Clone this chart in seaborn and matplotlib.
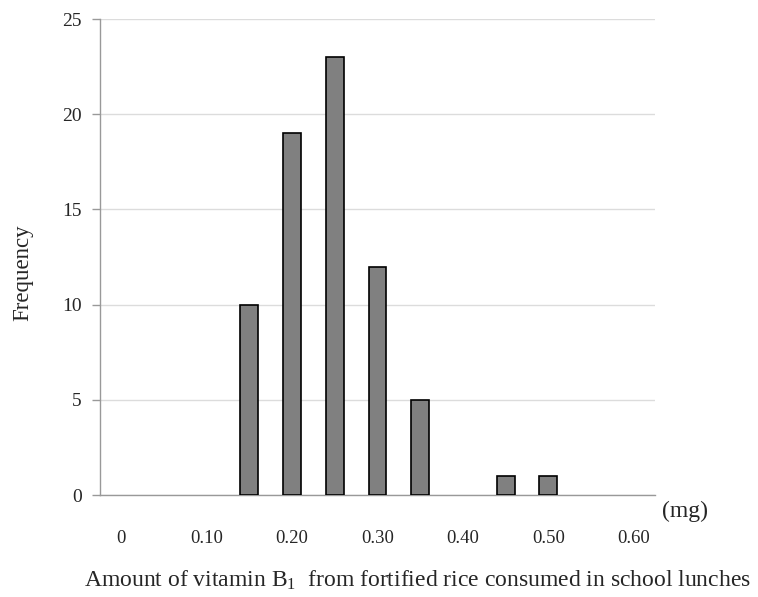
import numpy as np
import pandas as pd
import seaborn as sns
import matplotlib.pyplot as plt

# Data
amount = ["0", "0.05", "0.10", "0.15", "0.20", "0.25", "0.30",
          "0.35", "0.40", "0.45", "0.50", "0.55", "0.60"]
frequency = [0, 0, 0, 10, 19, 23, 12, 5, 0, 1, 1, 0, 0]
shown_labels = ["0", "0.10", "0.20", "0.30", "0.40", "0.50", "0.60"]

df = pd.DataFrame({"amount": amount, "frequency": frequency})

sns.set_style("white")
plt.rcParams["font.family"] = ["Liberation Serif", "DejaVu Serif"]
plt.rcParams["mathtext.fontset"] = "custom"
plt.rcParams["mathtext.rm"] = "Liberation Serif"
plt.rcParams["mathtext.it"] = "Liberation Serif:italic"

fig = plt.figure(figsize=(7.58, 5.97), dpi=100)
ax = fig.add_axes([100 / 758, 1 - 495 / 597, 555 / 758, 476 / 597])

sns.barplot(data=df, x="amount", y="frequency", order=amount, color="#808080",
            edgecolor="black", linewidth=1.2, width=0.42, saturation=1, ax=ax,
            zorder=3)

# empty classes draw no outline
for p in ax.patches:
    if p.get_height() == 0:
        p.set_visible(False)

ax.set_xlim(-0.5, len(amount) - 0.5)
ax.set_ylim(0, 25)
ax.set_yticks(np.arange(0, 26, 5))
ax.grid(axis="y", color="#dcdcdc", linewidth=1, zorder=0)
ax.set_axisbelow(True)

# category labels every other slot, tick marks at category boundaries
pos = [amount.index(l) for l in shown_labels]
ax.set_xticks(pos)
ax.set_xticklabels(shown_labels)
ax.set_xticks(np.arange(-0.5, len(amount)), minor=True)
ax.tick_params(axis="x", which="major", length=0, pad=25, labelsize=13.5)
ax.tick_params(axis="x", which="minor", length=7, color="#999999", width=1)
ax.tick_params(axis="y", length=6, color="#999999", width=1, labelsize=14, pad=7,
               left=True)

for s in ["top", "right"]:
    ax.spines[s].set_visible(False)
for s in ["left", "bottom"]:
    ax.spines[s].set_color("#999999")
    ax.spines[s].set_linewidth(1)

ax.set_xlabel("Amount of vitamin B$_1$  from fortified rice consumed in school lunches",
              fontsize=17)
ax.xaxis.label.set_va("center")
ax.xaxis.set_label_coords((417 - 100) / 555, (495 - 580) / 476)
ax.set_ylabel("Frequency", fontsize=16.5)
ax.yaxis.label.set_va("center")
ax.yaxis.label.set_ha("center")
ax.yaxis.set_label_coords((23 - 100) / 555, (495 - 273) / 476)

fig.text(685 / 758, 1 - 511 / 597, "(mg)", fontsize=17, ha="center", va="center")

fig.savefig("out.png", dpi=100)
